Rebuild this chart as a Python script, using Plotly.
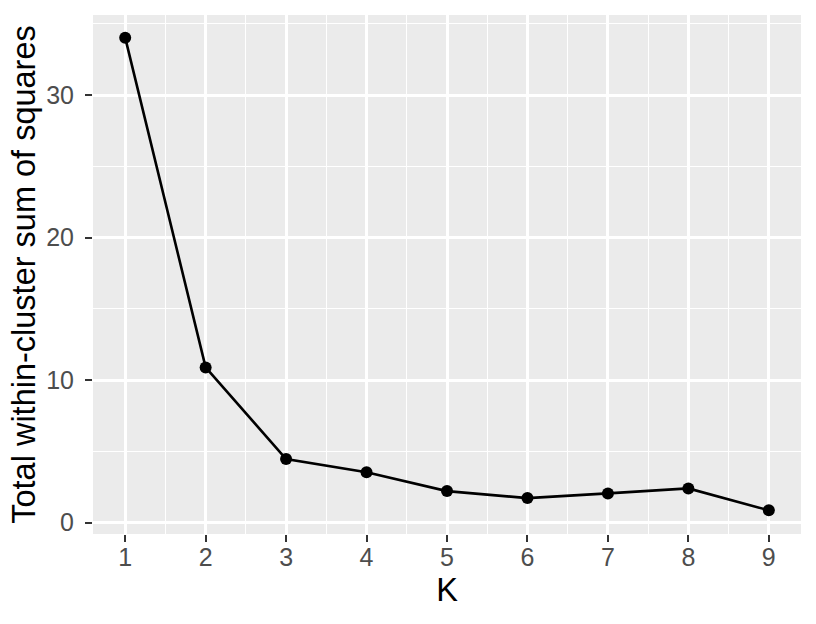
import plotly.graph_objects as go

k_values = [1, 2, 3, 4, 5, 6, 7, 8, 9]
wss_values = [34.04, 10.9, 4.47, 3.54, 2.22, 1.73, 2.06, 2.41, 0.87]
x_ticks = [1, 2, 3, 4, 5, 6, 7, 8, 9]
y_ticks = [0, 10, 20, 30]

fig = go.Figure()
fig.add_trace(go.Scatter(
    x=k_values, y=wss_values, mode="lines+markers",
    line=dict(color="black", width=2.6),
    marker=dict(color="black", size=12),
    showlegend=False,
))

font_family = "Liberation Sans, Arial, sans-serif"
fig.update_layout(
    width=816, height=624,
    margin=dict(l=93, r=15, t=15, b=90),
    paper_bgcolor="white",
    plot_bgcolor="#EBEBEB",
    font=dict(family=font_family, color="black"),
)
fig.update_xaxes(
    range=[0.6, 9.4],
    tickvals=x_ticks, ticktext=[str(v) for v in x_ticks],
    ticks="outside", ticklen=7, tickwidth=2.4, tickcolor="#333333",
    tickfont=dict(size=25, color="#4D4D4D", family=font_family),
    ticklabelstandoff=-6,
    showgrid=True, gridcolor="white", gridwidth=2.8,
    minor=dict(dtick=0.5, tick0=0.5, showgrid=True, gridcolor="white", gridwidth=1.4, ticks=""),
    zeroline=False, showline=False,
    title=dict(text="K", font=dict(size=32.5, color="black", family=font_family), standoff=8),
)
fig.update_yaxes(
    range=[-0.79, 35.63],
    tickvals=y_ticks, ticktext=[str(v) for v in y_ticks],
    ticks="outside", ticklen=7, tickwidth=2.4, tickcolor="#333333",
    tickfont=dict(size=25, color="#4D4D4D", family=font_family),
    ticklabelstandoff=6,
    showgrid=True, gridcolor="white", gridwidth=2.8,
    minor=dict(dtick=5, tick0=5, showgrid=True, gridcolor="white", gridwidth=1.4, ticks=""),
    zeroline=False, showline=False,
    title=dict(text="Total within-cluster sum of squares", font=dict(size=32.5, color="black", family=font_family), standoff=0),
)
fig.write_html("out.html", config={"displayModeBar": False},
               post_script="document.body.style.margin='0';")
